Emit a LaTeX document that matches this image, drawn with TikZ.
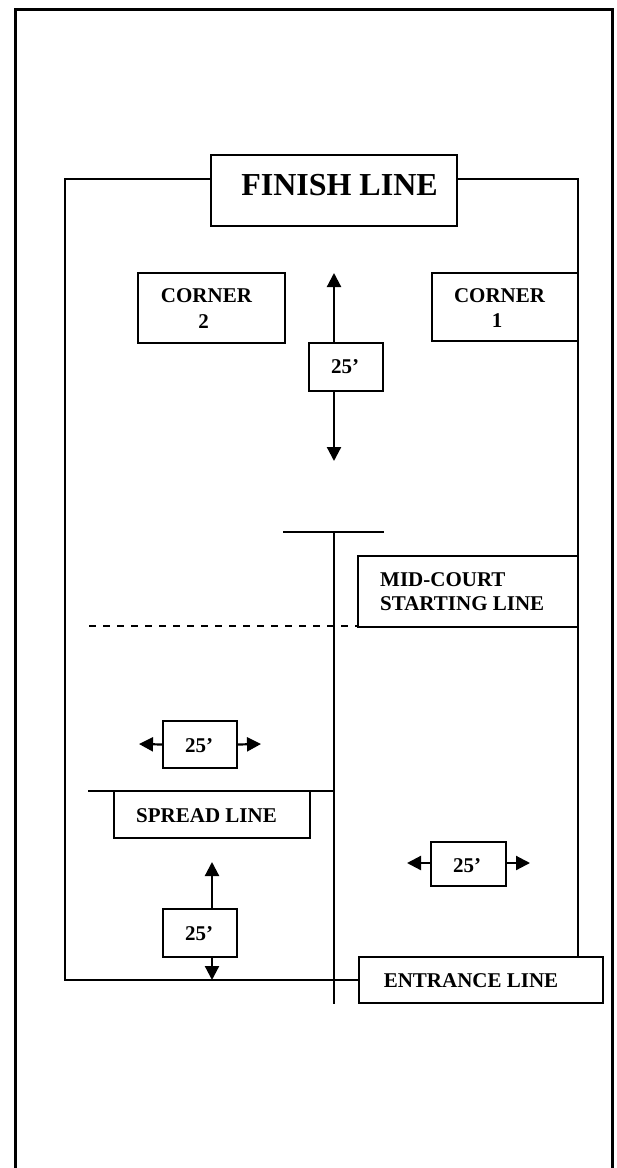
\documentclass[tikz,border=0pt]{standalone}
\usepackage{fontspec}
\setmainfont{Liberation Serif}
\usetikzlibrary{arrows.meta}
\tikzset{
  court/.style={line width=1.5pt, line cap=rect},
  boxnode/.style={draw, line width=1.5pt, inner sep=0pt, fill=white},
  lbl/.style={anchor=base, inner sep=0pt, font=\bfseries\fontsize{21}{26}\selectfont},
  biglbl/.style={anchor=base, inner sep=0pt, font=\bfseries\fontsize{32}{38}\selectfont},
  arr/.style={line width=2.2pt, -{Triangle[width=14pt,length=14pt]}},
  dashline/.style={line width=2.2pt, dash pattern=on 7pt off 7pt}
}
\begin{document}
\begin{tikzpicture}[x=1pt,y=-1pt]
\useasboundingbox (0,0) rectangle (617,1168);
% outer frame
\draw[line width=3pt] (15,1170) -- (15,9) -- (612,9) -- (612,1170);
% boxes
\node[boxnode, minimum width=246pt, minimum height=71pt] (fin) at (334,190.5) {};
\node[boxnode, minimum width=147pt, minimum height=70pt] (c2) at (211.5,308) {};
\node[boxnode, minimum width=146pt, minimum height=68pt] (c1) at (505,307) {};
\node[boxnode, minimum width=74pt, minimum height=48pt] (ta) at (346,367) {};
\node[boxnode, minimum width=220pt, minimum height=71pt] (mid) at (468,591.5) {};
\node[boxnode, minimum width=74pt, minimum height=47pt] (tb) at (200,744.5) {};
\node[boxnode, minimum width=196pt, minimum height=47pt] (spr) at (212,814.5) {};
\node[boxnode, minimum width=75pt, minimum height=44pt] (tc) at (468.5,864) {};
\node[boxnode, minimum width=74pt, minimum height=48pt] (td) at (200,933) {};
\node[boxnode, minimum width=244pt, minimum height=46pt] (ent) at (481,980) {};
% court lines
\coordinate (ctl) at (65,179);
\coordinate (ctr) at (578,179);
\coordinate (cbl) at (65,980);
\draw[court] (fin.west |- ctl) -- (ctl) -- (cbl) -- (ent.west |- cbl);
\draw[court] (fin.east |- ctr) -- (ctr) -- (ent.north -| ctr);
% center line with T
\coordinate (tl) at (284,532);
\coordinate (tr) at (383,532);
\coordinate (tt) at (334,532);
\coordinate (tbot) at (334,1003);
\draw[court] (tl) -- (tr);
\draw[court] (tt) -- (tbot);
% dashed mid-court line
\coordinate (dl) at (89,626);
\draw[dashline] (dl) -- (mid.west |- dl);
% spread line
\coordinate (sl) at (89,791);
\coordinate (sr) at (334,791);
\draw[court] (sl) -- (sr);
% arrows
\coordinate (a1) at (334,273);
\coordinate (a2) at (334,461);
\draw[arr] (ta.north -| a1) -- (a1);
\draw[arr] (ta.south -| a2) -- (a2);
\coordinate (b1) at (139,744);
\coordinate (b2) at (261,744);
\draw[arr] (tb.west) -- (b1);
\draw[arr] (tb.east) -- (b2);
\coordinate (c1l) at (407,863);
\coordinate (c1r) at (530,863);
\draw[arr] (tc.west |- c1l) -- (c1l);
\draw[arr] (tc.east |- c1r) -- (c1r);
\coordinate (d1) at (212,862);
\coordinate (d2) at (212,980);
\draw[arr] (td.north -| d1) -- (d1);
\draw[arr] (td.south -| d2) -- (d2);
% labels
\node[biglbl] (finT) at (339.5,195) {FINISH LINE};
\node[lbl] (c2a) at (206.5,302) {CORNER};
\node[lbl] (c2b) at (203.5,328) {2};
\node[lbl] (c1a) at (499.5,302) {CORNER};
\node[lbl] (c1b) at (497,327) {1};
\node[lbl] (taT) at (345,373) {25’};
\node[lbl, anchor=base west] (midA) at (380,586) {MID-COURT};
\node[lbl, anchor=base west] (midB) at (380,610) {STARTING LINE};
\node[lbl] (tbT) at (199,752) {25’};
\node[lbl] (sprT) at (206.5,822) {SPREAD LINE};
\node[lbl] (tcT) at (467,872) {25’};
\node[lbl] (tdT) at (199,940) {25’};
\node[lbl] (entT) at (471,987) {ENTRANCE LINE};
\end{tikzpicture}
\end{document}
